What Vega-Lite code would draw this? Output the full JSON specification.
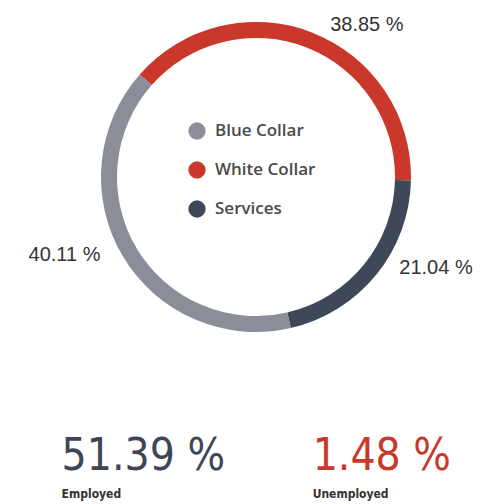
{
  "$schema": "https://vega.github.io/schema/vega-lite/v6.json",
  "padding": 0,
  "spacing": 0,
  "background": "white",
  "config": {"view": {"stroke": null}},
  "vconcat": [
    {
      "width": 512,
      "height": 354,
      "data": {"values": [
        {"sector": "White Collar", "share": 38.85, "rank": 1, "label": "38.85 %"},
        {"sector": "Services", "share": 21.04, "rank": 2, "label": "21.04 %"},
        {"sector": "Blue Collar", "share": 40.11, "rank": 3, "label": "40.11 %"}
      ]},
      "encoding": {
        "theta": {"field": "share", "type": "quantitative", "stack": true, "scale": {"domain": [0, 100], "range": [-0.848, 5.435]}},
        "order": {"field": "rank", "type": "quantitative"}
      },
      "layer": [
        {
          "mark": {"type": "arc", "radius": 155, "innerRadius": 139},
          "encoding": {
            "color": {
              "field": "sector",
              "type": "nominal",
              "scale": {"domain": ["Blue Collar", "White Collar", "Services"], "range": ["#8b8d99", "#c9382a", "#3f4858"]},
              "legend": {
                "orient": "none",
                "legendX": 188,
                "legendY": 122,
                "title": null,
                "symbolType": "circle",
                "symbolSize": 300,
                "symbolStrokeWidth": 0,
                "symbolOpacity": 1,
                "labelFont": "Open Sans",
                "labelFontSize": 17,
                "labelFontWeight": 600,
                "labelColor": "#4a4a4a",
                "labelOffset": 9,
                "rowPadding": 21,
                "padding": 0
              }
            }
          }
        },
        {
          "mark": {
            "type": "text",
            "font": "Liberation Sans",
            "fontSize": 20,
            "color": "#333333",
            "baseline": "middle",
            "align": {"expr": "datum.sector === 'Blue Collar' ? 'right' : 'left'"},
            "radius": {"expr": "datum.sector === 'White Collar' ? 169 : datum.sector === 'Services' ? 170 : 174"},
            "thetaOffset": {"expr": "datum.sector === 'White Collar' ? 0.082 : datum.sector === 'Services' ? -0.115 : 0.073"}
          },
          "encoding": {"text": {"field": "label"}}
        }
      ]
    },
    {
      "width": 488,
      "height": 150,
      "data": {"values": [
        {"status": "Employed", "line": "value", "text": "51.39 %"},
        {"status": "Employed", "line": "label", "text": "Employed"},
        {"status": "Unemployed", "line": "value", "text": "1.48 %"},
        {"status": "Unemployed", "line": "label", "text": "Unemployed"}
      ]},
      "encoding": {
        "x": {"field": "status", "type": "nominal", "axis": null, "scale": {"type": "point", "domain": ["Employed", "Unemployed"], "padding": 0.472, "align": 0.26}},
        "y": {"field": "line", "type": "nominal", "axis": null, "scale": {"type": "point", "domain": ["value", "label"], "range": [103, 140], "padding": 0}},
        "text": {"field": "text"}
      },
      "layer": [
        {
          "transform": [{"filter": "datum.line === 'value'"}],
          "mark": {"type": "text", "align": "left", "baseline": "middle", "font": "DejaVu Sans Condensed", "fontSize": 44},
          "encoding": {
            "color": {"condition": {"test": "datum.status === 'Unemployed'", "value": "#c9382a"}, "value": "#3e4556"}
          }
        },
        {
          "transform": [{"filter": "datum.line === 'label'"}],
          "mark": {"type": "text", "align": "left", "baseline": "middle", "font": "DejaVu Sans Condensed", "fontSize": 12, "fontWeight": "bold", "color": "#333333"}
        }
      ]
    }
  ]
}
